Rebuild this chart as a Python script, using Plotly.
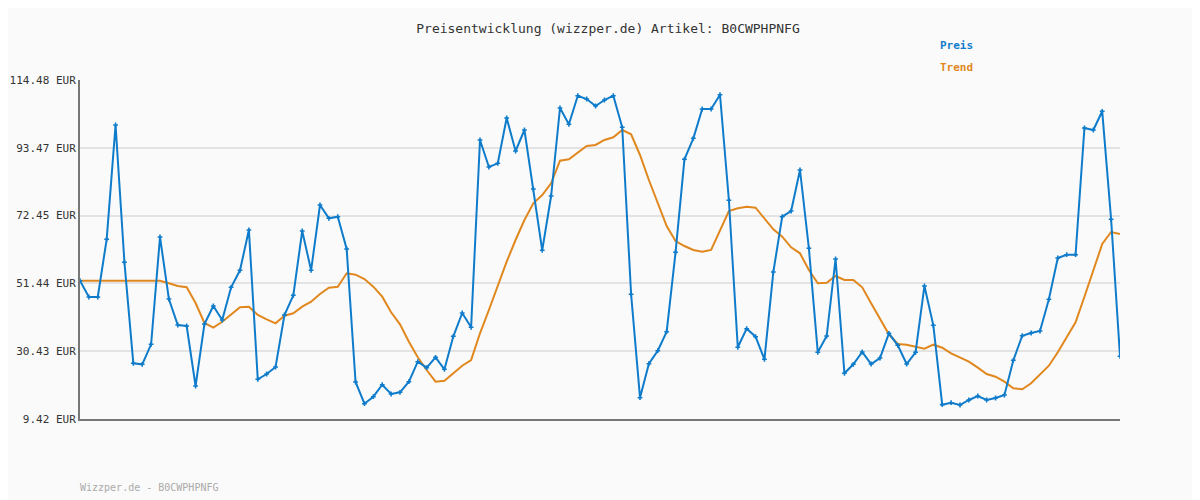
import plotly.graph_objects as go

# price history (EUR)
preis = [52.28, 47.23, 47.23, 65.11, 100.53, 57.98, 26.68, 26.37, 32.57, 65.82,
         46.61, 38.55, 38.24, 19.65, 38.86, 44.44, 40.10, 50.24, 55.50, 67.99,
         21.72, 23.37, 25.54, 41.65, 47.76, 67.68, 55.50, 75.74, 71.62, 72.12,
         62.11, 20.89, 14.16, 16.33, 20.05, 17.17, 17.69, 20.98, 27.18, 25.32,
         28.54, 24.82, 35.05, 42.27, 37.84, 95.89, 87.52, 88.66, 102.70, 92.48,
         98.98, 80.70, 61.70, 78.53, 105.80, 100.75, 109.61, 108.59, 106.42, 108.28,
         109.61, 99.82, 48.07, 16.02, 26.56, 30.59, 36.48, 61.08, 89.90, 96.41,
         105.49, 105.49, 109.92, 77.20, 31.64, 37.41, 34.93, 27.92, 54.98, 72.12,
         73.88, 86.59, 62.32, 30.09, 35.14, 59.01, 23.58, 26.37, 30.18, 26.46,
         28.32, 35.98, 32.26, 26.46, 30.09, 50.64, 38.46, 13.86, 14.47, 13.76,
         15.31, 16.55, 15.31, 15.93, 16.86, 27.61, 35.24, 36.07, 36.69, 46.52,
         59.32, 60.34, 60.34, 99.60, 98.98, 104.78, 71.31, 28.85]

trend = [52.28] * 10 + [
         51.47, 50.64, 50.24, 45.37, 39.17, 37.72, 39.57, 41.87, 44.04, 44.22,
         41.65, 40.32, 39.08, 41.43, 42.18, 44.22, 45.77, 48.16, 50.11, 50.42,
         54.57, 54.14, 52.81, 50.42, 47.32, 42.49, 38.77, 33.38, 28.54, 24.61,
         20.98, 21.29, 23.58, 25.94, 27.71, 35.98, 43.20, 50.95, 58.17, 64.89,
         71.09, 76.27, 78.84, 82.47, 89.47, 89.90, 91.95, 94.03, 94.34, 95.89,
         96.72, 98.98, 97.65, 91.24, 83.49, 76.27, 69.23, 64.58, 63.03, 61.80,
         61.27, 61.80, 67.99, 73.88, 74.72, 75.21, 74.90, 71.62, 68.21, 65.92,
         62.63, 60.77, 55.60, 51.47, 51.66, 53.74, 52.50, 52.50, 50.24, 45.28,
         40.63, 35.67, 32.66, 32.45, 31.83, 31.21, 32.45, 31.52, 29.78, 28.54,
         27.18, 25.32, 23.37, 22.53, 20.98, 18.93, 18.62, 20.48, 23.06, 25.94,
         30.09, 34.62, 39.39, 47.32, 55.81, 63.65, 67.37, 66.75]

y_ticks = [9.42, 30.43, 51.44, 72.45, 93.47, 114.48]
tick_text = ["%.2f EUR" % v for v in y_ticks]

blue = "#0f7ccb"
orange = "#e0881e"
font = "DejaVu Sans Mono"

fig = go.Figure()
fig.add_trace(go.Scatter(x=list(range(len(trend))), y=trend, mode="lines",
                         line=dict(color=orange, width=2), name="Trend"))
fig.add_trace(go.Scatter(x=list(range(len(preis))), y=preis, mode="lines+markers",
                         line=dict(color=blue, width=2),
                         marker=dict(symbol="cross", size=4, color=blue),
                         name="Preis"))

fig.update_layout(
    width=1200, height=500, showlegend=False,
    paper_bgcolor="#fafafa", plot_bgcolor="#fafafa",
    margin=dict(l=72, r=88, t=72, b=89),
    font=dict(family=font, size=11, color="#333"),
    title=dict(text="Preisentwicklung (wizzper.de) Artikel: B0CWPHPNFG",
               x=0.5, xanchor="center", yanchor="middle", y=1 - 20 / 500,
               font=dict(size=13, color="#333")),
    xaxis=dict(range=[0, len(preis) - 1], showgrid=False, showticklabels=False,
               zeroline=False, showline=True, linecolor="#777", linewidth=2,
               automargin=False),
    yaxis=dict(range=[9.42, 114.48], tickvals=y_ticks, ticktext=tick_text,
               gridcolor="#e3e3e3", gridwidth=2, zeroline=False,
               showline=True, linecolor="#777", linewidth=2, automargin=False),
    annotations=[
        dict(text="<b>Preis</b>", x=(938 - 80) / 1040, y=(419 - 46) / 339,
             xref="paper", yref="paper", yanchor="middle",
             showarrow=False, font=dict(color=blue, size=11), xanchor="left"),
        dict(text="<b>Trend</b>", x=(938 - 80) / 1040, y=(419 - 67) / 339,
             xref="paper", yref="paper", yanchor="middle",
             showarrow=False, font=dict(color=orange, size=11), xanchor="left"),
        dict(text="Wizzper.de - B0CWPHPNFG", x=-2 / 1040, y=-(487 - 419) / 339,
             xref="paper", yref="paper", yanchor="middle",
             showarrow=False, font=dict(color="#aaa", size=10), xanchor="left"),
    ],
)

fig.write_html("out.html")
